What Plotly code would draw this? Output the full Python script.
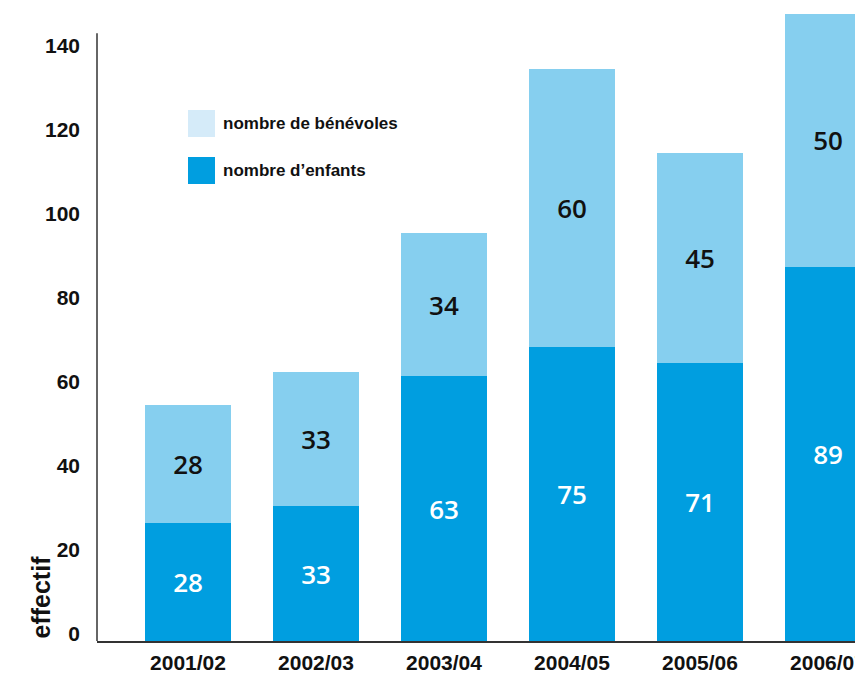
import plotly.graph_objects as go

# categories and values
saisons = ["2001/02", "2002/03", "2003/04", "2004/05", "2005/06", "2006/07"]
# bar heights as drawn
enfants_hauteur = [28, 32, 63, 70, 66, 89]
benevoles_hauteur = [28, 32, 34, 66, 50, 60]
# printed labels
enfants_label = [28, 33, 63, 75, 71, 89]
benevoles_label = [28, 33, 34, 60, 45, 50]
y_ticks = [0, 20, 40, 60, 80, 100, 120, 140]

COL_DARK = "#009EE0"
COL_LIGHT = "#86CFEF"
COL_LEGEND_LIGHT = "#D5EBF9"
COL_AXIS = "#333333"

fig = go.Figure()

# 1. enfants (bottom, dark)
fig.add_trace(go.Bar(
    x=saisons,
    y=enfants_hauteur,
    name="nombre d’enfants",
    marker=dict(color=COL_DARK, line=dict(width=0)),
    text=[str(v) for v in enfants_label],
    textposition="inside",
    insidetextanchor="middle",
    textangle=0,
    textfont=dict(family="Open Sans", size=26, color="white", weight=600),
    showlegend=False,
    hoverinfo="x+y",
))

# 2. bénévoles (stacked on top, light)
fig.add_trace(go.Bar(
    x=saisons,
    y=benevoles_hauteur,
    name="nombre de bénévoles",
    marker=dict(color=COL_LIGHT, line=dict(width=0)),
    text=[str(v) for v in benevoles_label],
    textposition="inside",
    insidetextanchor="middle",
    textangle=0,
    textfont=dict(family="Open Sans", size=26, color="#111111", weight=600),
    showlegend=False,
    hoverinfo="x+y",
))

# --- hand-made legend (big square swatches) ---
legend_items = [("nombre de bénévoles", COL_LEGEND_LIGHT, 110),
                ("nombre d’enfants", COL_DARK, 157)]
for label, col, top in legend_items:
    fig.add_shape(
        type="rect", xref="paper", yref="paper",
        x0=(188 - 97) / 758, x1=(215 - 97) / 758,
        y0=1 - (top + 27) / 641, y1=1 - top / 641,
        fillcolor=col, line=dict(width=0), layer="above",
    )
    fig.add_annotation(
        xref="paper", yref="paper",
        x=(221 - 97) / 758, y=1 - (top + 13.5) / 641,
        text=label, showarrow=False,
        xanchor="left", yanchor="middle",
        font=dict(family="Liberation Sans", size=17, color="#111111", weight="bold"),
    )

# y axis line stops short of the top
fig.add_shape(
    type="line", xref="paper", yref="y",
    x0=0, x1=0, y0=0, y1=144.5,
    line=dict(color=COL_AXIS, width=1.5),
)

# axis title, rotated, bottom-aligned with the baseline
fig.add_annotation(
    xref="paper", yref="y", x=0, y=0,
    xshift=-57, xanchor="center", yanchor="bottom",
    text="effectif", textangle=-90, showarrow=False,
    font=dict(family="Liberation Sans", size=25, color="#111111", weight="bold"),
)

fig.update_layout(
    barmode="stack",
    bargap=0.328,
    width=855,
    height=673,
    paper_bgcolor="white",
    plot_bgcolor="white",
    margin=dict(l=97, r=0, t=0, b=32),
    font=dict(family="Liberation Sans", color="#111111"),
    xaxis=dict(
        range=[-0.711, 5.211],
        automargin=False,
        showline=True,
        linecolor=COL_AXIS,
        linewidth=2,
        showgrid=False,
        ticks="",
        ticklabelstandoff=2,
        tickfont=dict(family="Liberation Sans", size=21, color="#111111", weight="bold"),
        fixedrange=True,
    ),
    yaxis=dict(
        range=[0, 152.4],
        automargin=False,
        tickvals=y_ticks,
        showline=False,
        showgrid=False,
        zeroline=False,
        ticks="",
        ticklabelshift=-7,
        ticklabelstandoff=16,
        tickfont=dict(family="Liberation Sans", size=21, color="#111111", weight="bold"),
        fixedrange=True,
    ),
)

# drop the default page margin and scrollbars so the figure sits at the window's corner
fig.write_html(
    "out.html",
    config=dict(displayModeBar=False),
    post_script=(
        "document.body.style.margin='0';"
        "document.body.style.overflow='hidden';"
        "document.documentElement.style.overflow='hidden';"
    ),
)
